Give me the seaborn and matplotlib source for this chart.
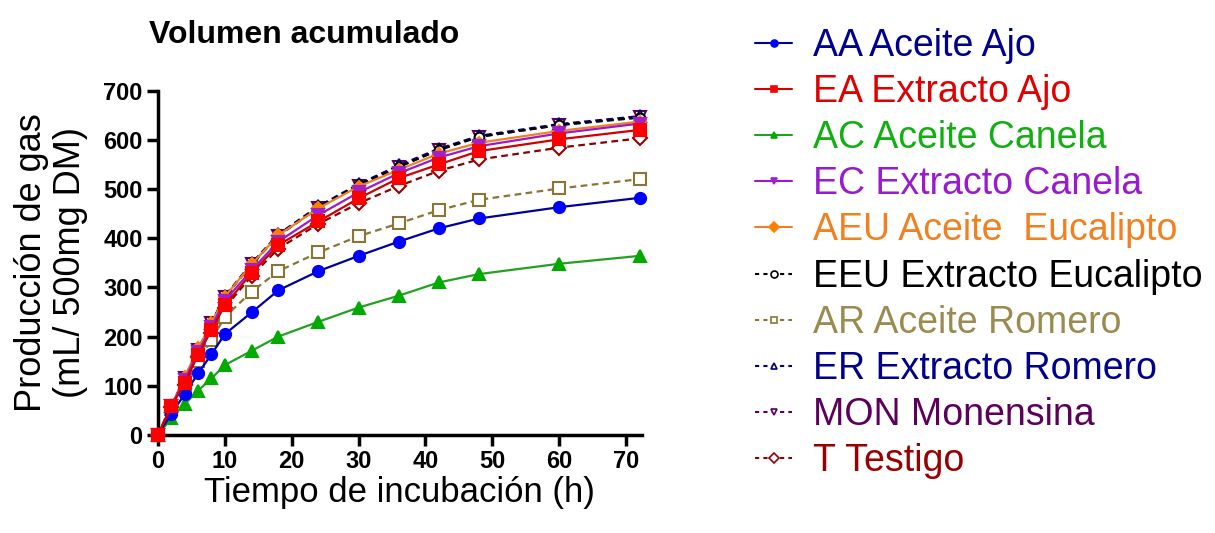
import matplotlib
matplotlib.use("Agg")
import matplotlib.pyplot as plt
from matplotlib.lines import Line2D
import seaborn as sns

# ---------------- data ----------------
hours = [0, 2, 4, 6, 8, 10, 14, 18, 24, 30, 36, 42, 48, 60, 72]

AA = [0, 43, 83, 125, 164, 205, 249, 294, 333, 364, 393, 420, 440, 463, 482]
EA = [0, 58, 105, 163, 213, 264, 329, 386, 434, 481, 522, 550, 577, 601, 620]
AC = [0, 34, 63, 90, 115, 142, 171, 200, 230, 259, 283, 310, 327, 348, 364]
EC = [0, 59, 112, 169, 220, 273, 335, 393, 447, 493, 532, 564, 587, 613, 633]
AEU = [0, 59, 118, 176, 227, 281, 347, 406, 461, 505, 539, 572, 594, 618, 637]
EEU = [0, 59, 115, 173, 227, 281, 347, 406, 463, 508, 545, 579, 606, 630, 645]
AR = [0, 53, 100, 150, 193, 240, 291, 333, 371, 404, 430, 457, 478, 501, 520]
ER = [0, 59, 116, 174, 228, 282, 349, 408, 465, 510, 548, 582, 608, 632, 648]
MON = [0, 59, 115, 173, 227, 281, 347, 405, 462, 507, 545, 580, 606, 630, 646]
T = [0, 56, 102, 158, 207, 259, 323, 379, 429, 471, 506, 537, 560, 584, 603]

labels = ["AA Aceite Ajo", "EA Extracto Ajo", "AC Aceite Canela",
          "EC Extracto Canela", "AEU Aceite  Eucalipto", "EEU Extracto Eucalipto",
          "AR Aceite Romero", "ER Extracto Romero", "MON Monensina", "T Testigo"]
series = [AA, EA, AC, EC, AEU, EEU, AR, ER, MON, T]

xticks = [0, 10, 20, 30, 40, 50, 60, 70]
yticks = [0, 100, 200, 300, 400, 500, 600, 700]

# ---------------- styles ----------------
line_colors = ["#00009C", "#D00000", "#22A022", "#9A1AD0", "#F08020",
               "#000000", "#8B7536", "#000080", "#5C005C", "#8B0000"]
marker_colors = ["#0000FF", "#FF0000", "#00AA00", "#A020D0", "#FF8000",
                 "#000000", "#8B7536", "#000080", "#5C005C", "#990000"]
text_colors = ["#00008F", "#E00000", "#10B010", "#9A1AD0", "#F08020",
               "#000000", "#9A8C50", "#00008B", "#5C005C", "#990000"]
markers = ["o", "s", "^", "v", "D", "o", "s", "^", "v", "D"]
filled = [True, True, True, True, True, False, False, False, False, False]
msizes = [8, 8, 8, 8, 6, 7, 8, 8, 8, 7]

sns.set_theme(style="ticks")
plt.rcParams["font.family"] = ["Liberation Sans", "DejaVu Sans"]
plt.rcParams["text.color"] = "black"
plt.rcParams["axes.labelcolor"] = "black"

fig = plt.figure(figsize=(12.15, 5.33), dpi=100)
ax = fig.add_axes([0.130, 0.184, 0.398, 0.646])

draw_order = [9, 8, 7, 6, 5, 4, 3, 2, 0, 1]
for z, i in enumerate(draw_order):
    ls = "-" if filled[i] else (0, (3, 2))
    sns.lineplot(x=hours, y=series[i], ax=ax, color=line_colors[i],
                 marker=markers[i], markersize=msizes[i],
                 markerfacecolor=marker_colors[i] if filled[i] else "white",
                 markeredgecolor=marker_colors[i], markeredgewidth=1.5,
                 linestyle=ls, linewidth=1.6, errorbar=None, legend=False,
                 clip_on=False, zorder=3 + z)

ax.set_xlim(0, 72.3)
ax.set_ylim(0, 700)
ax.set_xticks(xticks)
ax.set_yticks(yticks)
for s in ["top", "right"]:
    ax.spines[s].set_visible(False)
for s in ["left", "bottom"]:
    ax.spines[s].set_linewidth(2.5)
    ax.spines[s].set_color("black")
ax.tick_params(direction="out", length=8, width=2.5, labelsize=17, pad=3,
               colors="black")
plt.setp(ax.get_xticklabels(), fontweight="bold")
plt.setp(ax.get_yticklabels(), fontweight="bold")

ax.set_xlabel("Tiempo de incubación (h)", fontsize=25, labelpad=2, color="black")
ax.set_ylabel("Producción de gas\n(mL/ 500mg DM)", fontsize=26, labelpad=11,
              color="black", linespacing=1.15)

fig.text(0.25, 1 - 43 / 533, "Volumen acumulado", ha="center", va="baseline",
         fontsize=23, fontweight="bold", color="black")

handles = []
for i in range(10):
    ls = "-" if filled[i] else (0, (2, 2))
    handles.append(Line2D([0], [0], color=line_colors[i], linestyle=ls,
                          linewidth=1.5, marker=markers[i], markersize=5,
                          markerfacecolor=marker_colors[i] if filled[i] else "white",
                          markeredgecolor=marker_colors[i], markeredgewidth=1.2))
fig.legend(handles, labels, loc="upper left", bbox_to_anchor=(755 / 1215, 1 - 28 / 533),
           frameon=False, fontsize=27, handlelength=1.0, handletextpad=0.55,
           labelspacing=0.27, borderpad=0, borderaxespad=0, labelcolor=text_colors)

fig.savefig("out.png", dpi=100)
